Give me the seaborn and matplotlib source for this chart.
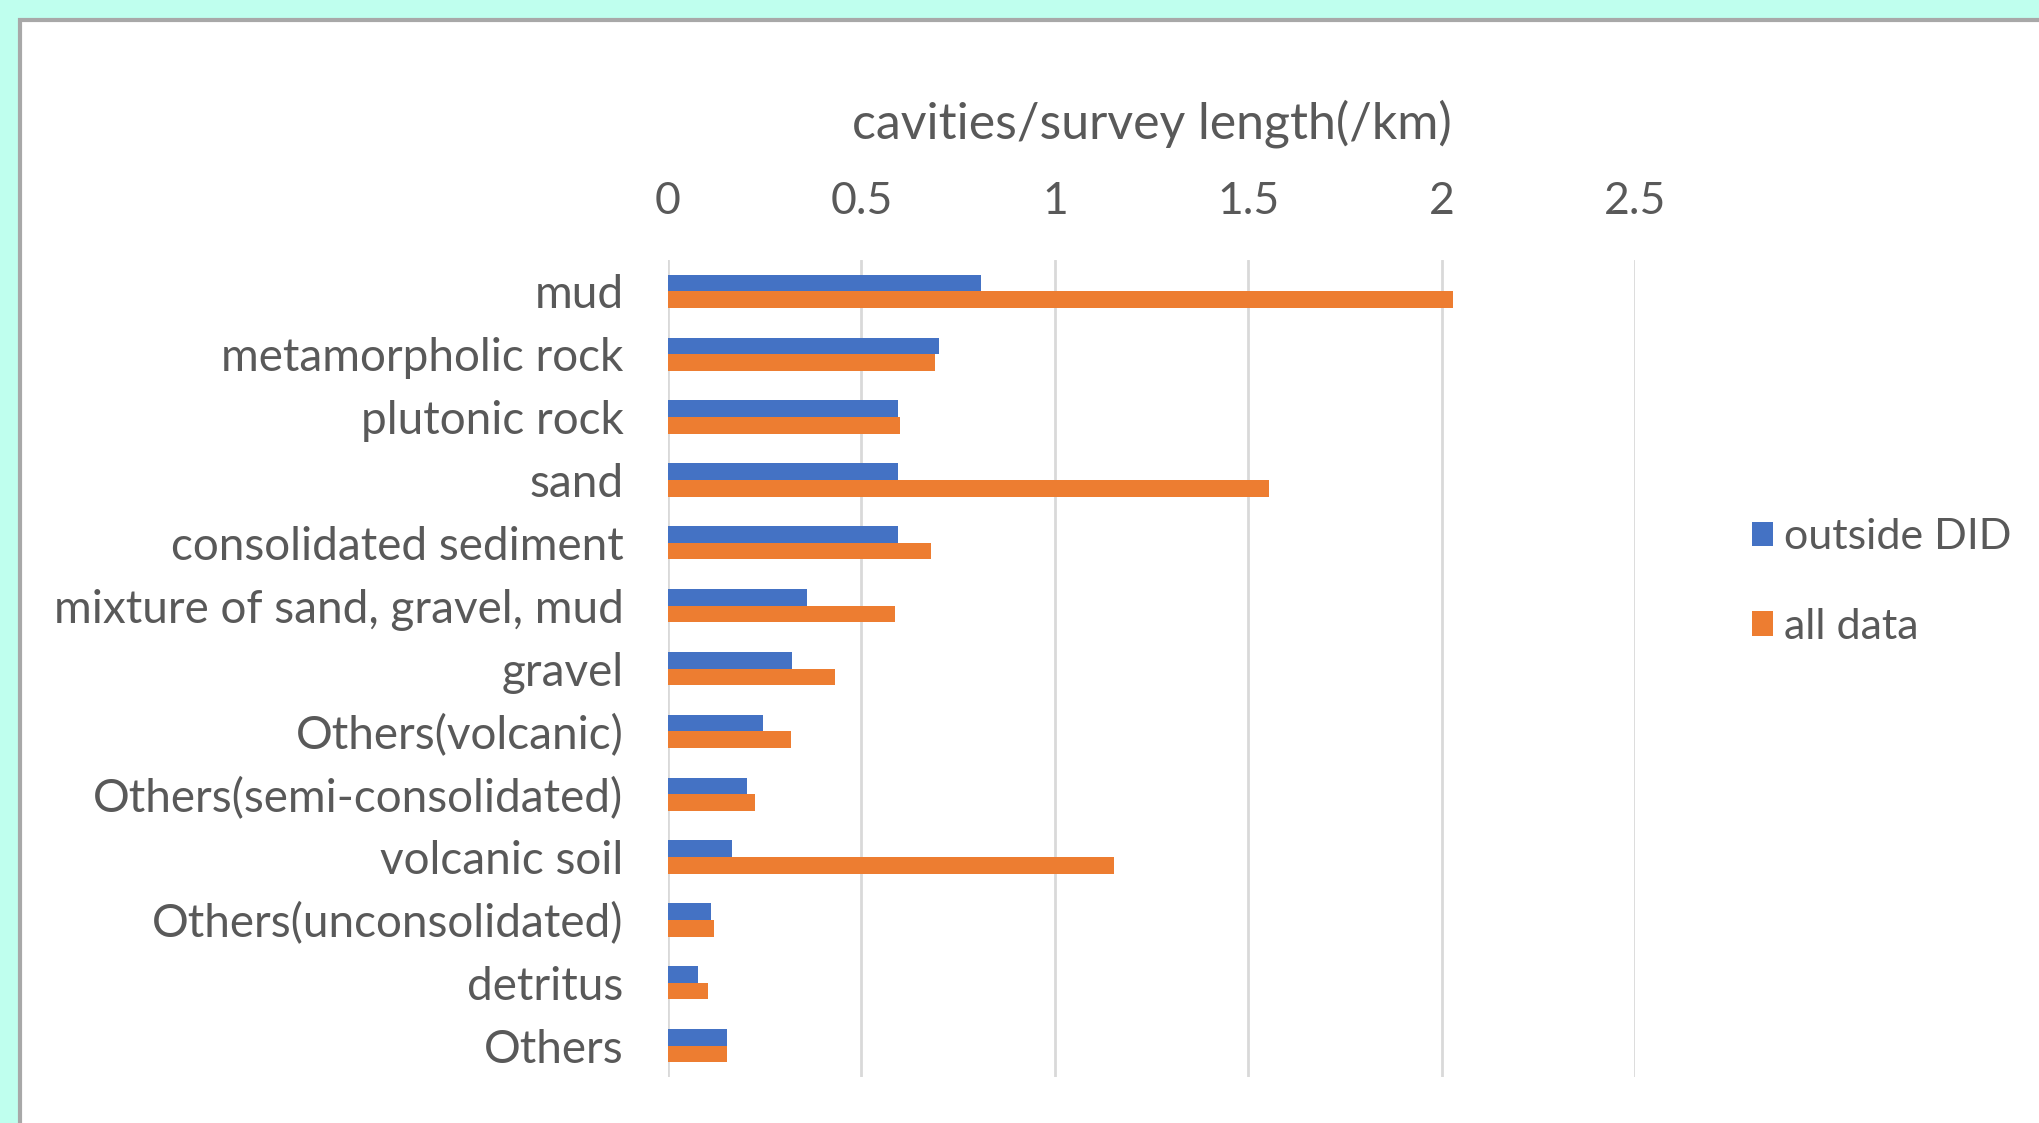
import pandas as pd
import matplotlib
matplotlib.use("Agg")
import matplotlib.pyplot as plt
from matplotlib.patches import Rectangle
import seaborn as sns

categories = ["mud", "metamorpholic rock", "plutonic rock", "sand", "consolidated sediment",
              "mixture of sand, gravel, mud", "gravel", "Others(volcanic)",
              "Others(semi-consolidated)", "volcanic soil", "Others(unconsolidated)",
              "detritus", "Others"]
outside_did = [0.81, 0.70, 0.595, 0.595, 0.595, 0.36, 0.32, 0.245, 0.205, 0.165, 0.11, 0.078, 0.152]
all_data = [2.03, 0.69, 0.60, 1.555, 0.68, 0.587, 0.433, 0.319, 0.226, 1.152, 0.119, 0.104, 0.152]
series = ["outside DID", "all data"]
x_ticks = [0, 0.5, 1, 1.5, 2, 2.5]
x_labels = ["0", "0.5", "1", "1.5", "2", "2.5"]

df = pd.DataFrame({"category": categories, series[0]: outside_did, series[1]: all_data})
df = df.melt(id_vars="category", var_name="series", value_name="value")

sns.set_style("white")
plt.rcParams["font.family"] = ["Lato", "DejaVu Sans"]
text_color = "#595959"
fs = 33

fig = plt.figure(figsize=(20.4, 11.23), dpi=100)
fig.patch.set_facecolor("#BFFFEE")
# white chart panel with grey frame
fig.patches.append(Rectangle((20 / 2040, -0.1), 1.2, 1.1 - 20 / 1123, transform=fig.transFigure,
                             facecolor="white", edgecolor="#A8A8A8", lw=3, zorder=-5))

ax = fig.add_axes([668 / 2040, 1 - 1077 / 1123, (1635 - 668) / 2040, (1077 - 260) / 1123])
ax.set_facecolor("none")
sns.barplot(data=df, y="category", x="value", hue="series", orient="h",
            palette=["#4472C4", "#ED7D31"], width=0.53, saturation=1, linewidth=0, ax=ax)

ax.set_xlim(0, 2.5)
ax.set_ylim(12.5, -0.5)
ax.set_xticks(x_ticks)
ax.set_xticklabels(x_labels)
ax.xaxis.tick_top()
ax.xaxis.set_label_position("top")
ax.grid(axis="x", color="#D9D9D9", lw=2)
ax.set_axisbelow(True)
for s in ax.spines.values():
    s.set_visible(False)
ax.tick_params(axis="x", length=0, pad=27, labelsize=fs - 1, labelcolor=text_color)
ax.tick_params(axis="y", length=0, pad=32, labelsize=fs, labelcolor=text_color)
ax.set_ylabel("")
ax.set_xlabel("cavities/survey length(/km)", fontsize=36, color=text_color, labelpad=31)

handles, labels = ax.get_legend_handles_labels()
ax.legend(handles, labels, loc="center left", bbox_to_anchor=(1713 / 2040, 1 - 582 / 1123),
          bbox_transform=fig.transFigure, frameon=False, fontsize=31, labelcolor=text_color,
          handlelength=0.5, handleheight=0.5, handletextpad=0.25, labelspacing=1.2,
          title=None)

fig.savefig("out.png", dpi=100, facecolor=fig.get_facecolor())
